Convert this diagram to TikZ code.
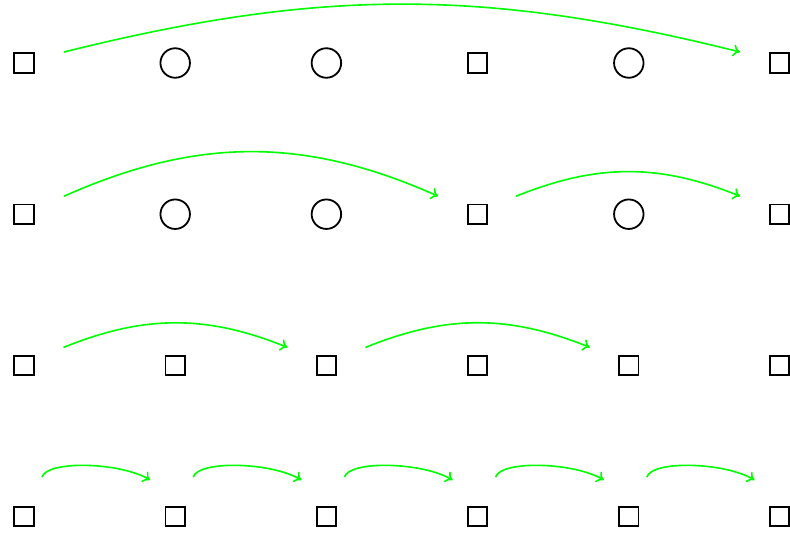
\documentclass[tikz,border=0pt]{standalone}
\usetikzlibrary{calc,arrows.meta}
\begin{document}
\begin{tikzpicture}[x=1pt,y=-1pt,
  sq/.style={draw,rectangle,line width=1.8pt,minimum size=19.5pt,inner sep=0pt},
  ci/.style={draw,circle,line width=1.8pt,minimum size=29.5pt,inner sep=0pt},
  arr/.style={-{To[length=7pt,width=12pt]},draw=green,line width=1.6pt}]
\useasboundingbox (0,0) rectangle (790,538);
% rows 1 and 2
\foreach \r/\y in {1/63,2/214.2}{
  \node[sq] (r\r c1) at (24,\y) {};
  \node[ci] (r\r c2) at (175.2,\y) {};
  \node[ci] (r\r c3) at (326.4,\y) {};
  \node[sq] (r\r c4) at (477.6,\y) {};
  \node[ci] (r\r c5) at (628.8,\y) {};
  \node[sq] (r\r c6) at (779.5,\y) {};
}
% rows 3 and 4
\foreach \r/\y in {3/365.4,4/516.6}{
  \foreach \c/\x in {1/24,2/175.2,3/326.4,4/477.6,5/628.8,6/779.5}{
    \node[sq] (r\r c\c) at (\x,\y) {};
  }
}
% row 1
\draw[arr] ($(r1c1)+(40,-11)$) to[bend left=14] ($(r1c6)+(-39.5,-11)$);
% row 2
\draw[arr] ($(r2c1)+(40,-18)$) to[bend left=24] ($(r2c4)+(-39.5,-18)$);
\draw[arr] ($(r2c4)+(38.5,-18)$) to[bend left=22] ($(r2c6)+(-39.5,-18)$);
% row 3
\draw[arr] ($(r3c1)+(39.5,-18)$) to[bend left=22] ($(r3c3)+(-39,-18)$);
\draw[arr] ($(r3c3)+(39,-18)$) to[bend left=22] ($(r3c5)+(-39,-18)$);
% row 4
\foreach \i/\j in {1/2,2/3,3/4,4/5,5/6}{
  \draw[arr] ($(r4c\i)+(18,-39.5)$) .. controls +(5,-17) and +(-30,-18) .. ($(r4c\j)+(-25,-36.5)$);
}
\end{tikzpicture}
\end{document}
